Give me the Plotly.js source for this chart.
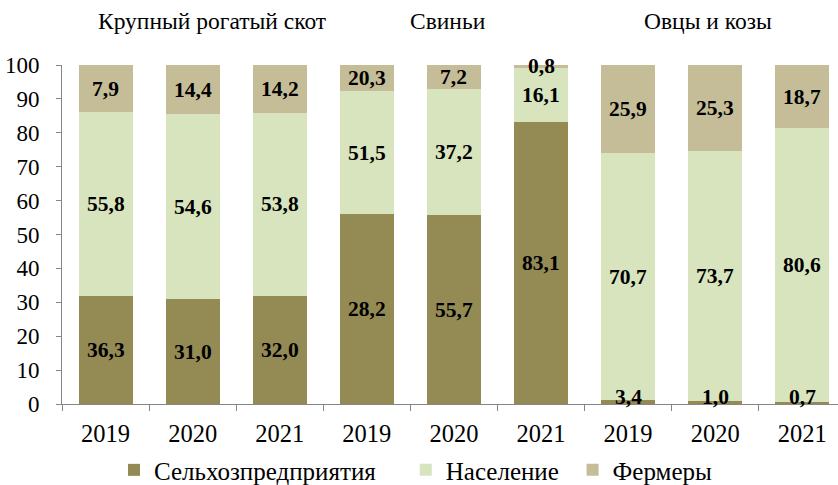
<!DOCTYPE html>
<html>
<head>
<meta charset="utf-8">
<script src="https://cdn.plot.ly/plotly-3.0.1.min.js"></script>
<style>html,body{margin:0;padding:0;background:#fff;}#chart{width:838px;height:485px;}</style>
</head>
<body>
<div id="chart"></div>
<script>
// Categories
var years = ['2019','2020','2021','2019','2020','2021','2019','2020','2021'];
var groupTitles = ['Крупный рогатый скот','Свиньи','Овцы и козы'];
var seriesNames = ['Сельхозпредприятия','Население','Фермеры'];

// Segment heights as drawn in the picture (%)
var agro = [31.8, 30.9, 32.0, 56.0, 55.7, 83.1, 1.1, 1.0, 0.7];
var pop  = [54.2, 54.6, 53.8, 36.2, 37.2, 16.1, 73.0, 73.7, 80.6];
var farm = [14.0, 14.5, 14.2, 7.8, 7.1, 0.8, 25.9, 25.3, 18.7];

// Data labels as printed in the picture
var agroLabels = ['36,3','31,0','32,0','28,2','55,7','83,1','3,4','1,0','0,7'];
var popLabels  = ['55,8','54,6','53,8','51,5','37,2','16,1','70,7','73,7','80,6'];
var farmLabels = ['7,9','14,4','14,2','20,3','7,2','0,8','25,9','25,3','18,7'];

var colors = ['#948A54', '#D7E4BD', '#C4BD97'];
var FONT = 'Liberation Serif, Times New Roman, serif';

var xs = years.map(function(_, i){ return i; });

var legendIds = ['legend', 'legend2', 'legend3'];
function barTrace(vals, name, color, lg){
  return {type:'bar', x: xs, y: vals, name: name, width: 0.62, legend: lg,
    marker:{color: color, line:{width:0}}, hoverinfo:'skip'};
}
var traces = [
  barTrace(agro, seriesNames[0], colors[0], legendIds[0]),
  barTrace(pop, seriesNames[1], colors[1], legendIds[1]),
  barTrace(farm, seriesNames[2], colors[2], legendIds[2])
];

// Data labels
var annotations = [];
function addLabels(vals, bases, labels){
  for (var i = 0; i < vals.length; i++){
    var c = bases[i] + vals[i] / 2;
    if (c < 2.2) c = 2.2;
    annotations.push({x: xs[i], y: c, xref:'x', yref:'y', text: '<b>' + labels[i] + '</b>',
      showarrow:false, font:{family: FONT, size: 21.5, color:'#000'}, yanchor:'middle'});
  }
}
var zero = agro.map(function(){ return 0; });
var base2 = agro.slice();
var base3 = agro.map(function(v, i){ return v + pop[i]; });
addLabels(agro, zero, agroLabels);
addLabels(pop, base2, popLabels);
addLabels(farm, base3, farmLabels);

// Group titles
var titleX = [0.193, 0.498, 0.832];
for (var g = 0; g < groupTitles.length; g++){
  annotations.push({x: titleX[g], y: 1.13, xref:'paper', yref:'paper', text: groupTitles[g],
    showarrow:false, font:{family: FONT, size: 23.5, color:'#000'}, xanchor:'center', yanchor:'middle'});
}

var boundaries = [];
for (var b = -0.5; b <= years.length - 0.5; b += 1) boundaries.push(b);

function legendAt(x){
  return {orientation:'h', x: x, xanchor:'left', y: -0.195, yanchor:'middle',
    font:{family: FONT, size: 25, color:'#000'}, itemclick:false, bgcolor:'rgba(0,0,0,0)'};
}

var xr = [-0.5, 8.41];
var layout = {
  width: 838, height: 485,
  margin: {l: 62, r: 0, t: 65, b: 81, autoexpand: false},
  barmode: 'stack',
  paper_bgcolor:'#fff', plot_bgcolor:'#fff',
  font: {family: FONT, size: 21, color:'#000'},
  showlegend: true,
  legend: legendAt(0.067),
  legend2: legendAt(0.443),
  legend3: legendAt(0.658),
  xaxis: {type:'linear', range: xr, tickmode:'array', tickvals: xs, ticktext: years,
    ticks:'', showline:true, linecolor:'#868686', linewidth:1, showgrid:false, zeroline:false,
    tickfont:{family: FONT, size: 24.5, color:'#000'}, ticklabelstandoff: 8, fixedrange:true},
  xaxis2: {type:'linear', range: xr, overlaying:'x', tickmode:'array', tickvals: boundaries,
    showticklabels:false, ticks:'outside', ticklen:6, tickcolor:'#868686', showline:false,
    showgrid:false, zeroline:false, side:'bottom', fixedrange:true},
  yaxis: {range:[0,100], tickmode:'linear', tick0:0, dtick:10, ticks:'outside', ticklen:5,
    tickcolor:'#868686', showline:true, linecolor:'#868686', linewidth:1, showgrid:false, zeroline:false,
    tickfont:{family: FONT, size: 23, color:'#000'}, ticklabelstandoff: 12, fixedrange:true},
  annotations: annotations
};
// invisible trace on xaxis2 so the boundary ticks are drawn
traces.push({type:'scatter', x:[xr[0]], y:[0], xaxis:'x2', mode:'markers', marker:{opacity:0},
  showlegend:false, hoverinfo:'skip'});

Plotly.newPlot('chart', traces, layout, {staticPlot:true});
</script>
</body>
</html>
